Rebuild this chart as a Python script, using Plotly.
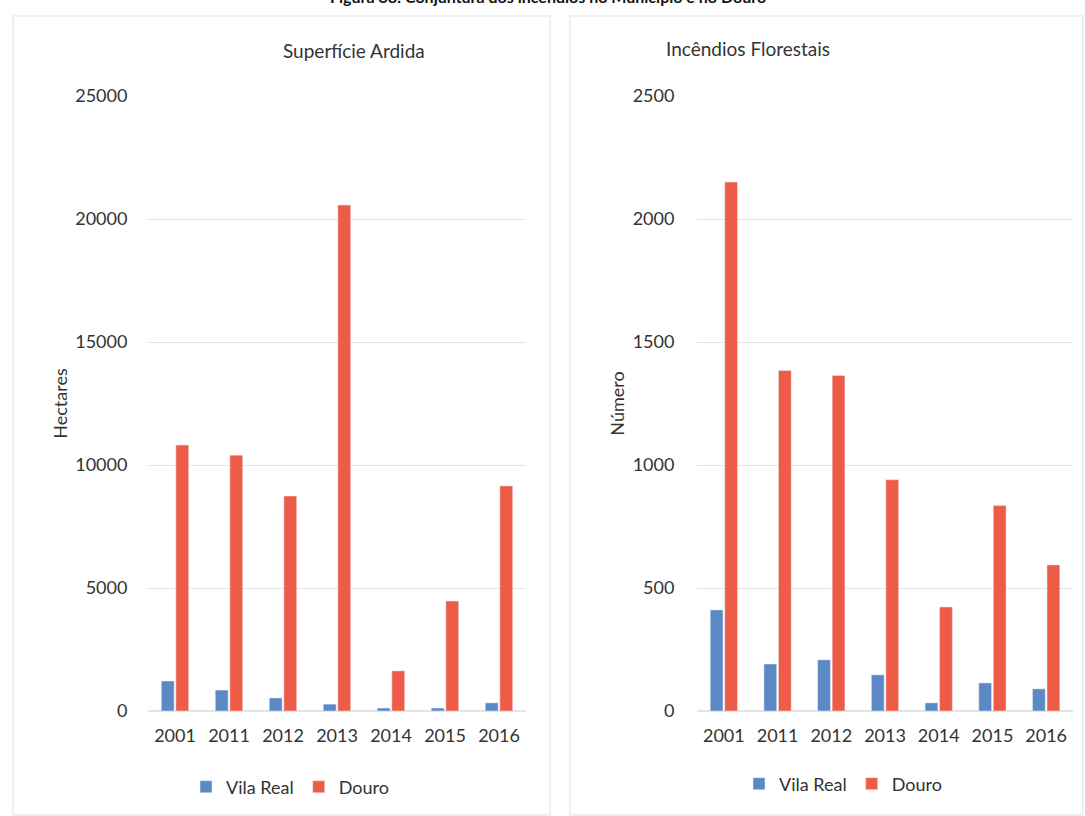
import plotly.graph_objects as go

# Data
years = ["2001", "2011", "2012", "2013", "2014", "2015", "2016"]
area_vila_real = [1220, 850, 530, 280, 120, 120, 330]
area_douro = [10810, 10400, 8740, 20570, 1630, 4470, 9150]
fires_vila_real = [411, 191, 208, 147, 33, 114, 90]
fires_douro = [2150, 1384, 1364, 940, 423, 835, 594]
area_ticks = [0, 5000, 10000, 15000, 20000, 25000]
fires_ticks = [0, 500, 1000, 1500, 2000, 2500]

W, H = 1085, 816
BLUE = "#5b89c6"
RED = "#ee5b47"
FONT = "Lato"
TXT = "#333333"


def px_x(v):
    return v / W


def px_y(v):
    return 1 - v / H


fig = go.Figure()

fig.add_trace(go.Bar(x=years, y=area_vila_real, name="Vila Real", marker_color=BLUE,
                     xaxis="x", yaxis="y", legend="legend"))
fig.add_trace(go.Bar(x=years, y=area_douro, name="Douro", marker_color=RED,
                     xaxis="x", yaxis="y", legend="legend"))
fig.add_trace(go.Bar(x=years, y=fires_vila_real, name="Vila Real", marker_color=BLUE,
                     xaxis="x2", yaxis="y2", legend="legend2"))
fig.add_trace(go.Bar(x=years, y=fires_douro, name="Douro", marker_color=RED,
                     xaxis="x2", yaxis="y2", legend="legend2"))

axis_font = dict(family=FONT, size=18, color=TXT)
grid = "#e4e4e4"

fig.update_layout(
    width=W, height=H,
    margin=dict(l=0, r=0, t=0, b=0, autoexpand=False),
    paper_bgcolor="white", plot_bgcolor="white",
    barmode="group", bargap=0.46, bargroupgap=0.12,
    font=dict(family=FONT, color=TXT),
    xaxis=dict(domain=[px_x(148), px_x(526)], anchor="y", tickfont=axis_font,
               showline=False, ticks="outside", ticklen=8, tickcolor="rgba(0,0,0,0)"),
    yaxis=dict(domain=[px_y(711), px_y(96)], anchor="x", range=[0, 25000],
               tickvals=area_ticks, ticktext=[str(v) for v in area_ticks],
               tickfont=axis_font,
               gridcolor=grid, zerolinecolor=grid, ticks="outside", ticklen=16,
               tickcolor="rgba(0,0,0,0)",
               title=dict(text="Hectares", font=dict(family=FONT, size=18, color=TXT),
                          standoff=2)),
    xaxis2=dict(domain=[px_x(697), px_x(1073)], anchor="y2", tickfont=axis_font,
                showline=False, ticks="outside", ticklen=8, tickcolor="rgba(0,0,0,0)"),
    yaxis2=dict(domain=[px_y(711), px_y(96)], anchor="x2", range=[0, 2500],
                tickvals=fires_ticks, ticktext=[str(v) for v in fires_ticks],
                tickfont=axis_font,
                gridcolor=grid, zerolinecolor=grid, ticks="outside", ticklen=18,
                tickcolor="rgba(0,0,0,0)",
                title=dict(text="Número", font=dict(family=FONT, size=18, color=TXT),
                           standoff=3)),
    legend=dict(orientation="h", x=px_x(290), y=px_y(787), xanchor="center",
                yanchor="middle", font=dict(family=FONT, size=18, color=TXT),
                itemwidth=30, traceorder="normal"),
    legend2=dict(orientation="h", x=px_x(843), y=px_y(784), xanchor="center",
                 yanchor="middle", font=dict(family=FONT, size=18, color=TXT),
                 itemwidth=30, traceorder="normal"),
)

# Panel outlines
for x0, x1 in [(13, 550), (570, 1083)]:
    fig.add_shape(type="rect", xref="paper", yref="paper",
                  x0=px_x(x0), x1=px_x(x1), y0=px_y(815), y1=px_y(16),
                  line=dict(color="#ececec", width=1.5), fillcolor="rgba(0,0,0,0)",
                  layer="below")

# Panel titles and figure caption
fig.add_annotation(text="Superfície Ardida", xref="paper", yref="paper",
                   x=px_x(281), y=px_y(50), yanchor="middle", showarrow=False,
                   font=dict(family=FONT, size=19, color=TXT))
fig.add_annotation(text="Incêndios Florestais", xref="paper", yref="paper",
                   x=px_x(832), y=px_y(48), yanchor="middle", showarrow=False,
                   font=dict(family=FONT, size=19, color=TXT))
fig.add_annotation(text="<b>Figura 38: Conjuntura dos incêndios no Município e no Douro</b>",
                   xref="paper", yref="paper", x=px_x(548), y=px_y(-4),
                   yanchor="middle", showarrow=False,
                   font=dict(family=FONT, size=16, color="#111111"))

fig.write_html("out.html")
